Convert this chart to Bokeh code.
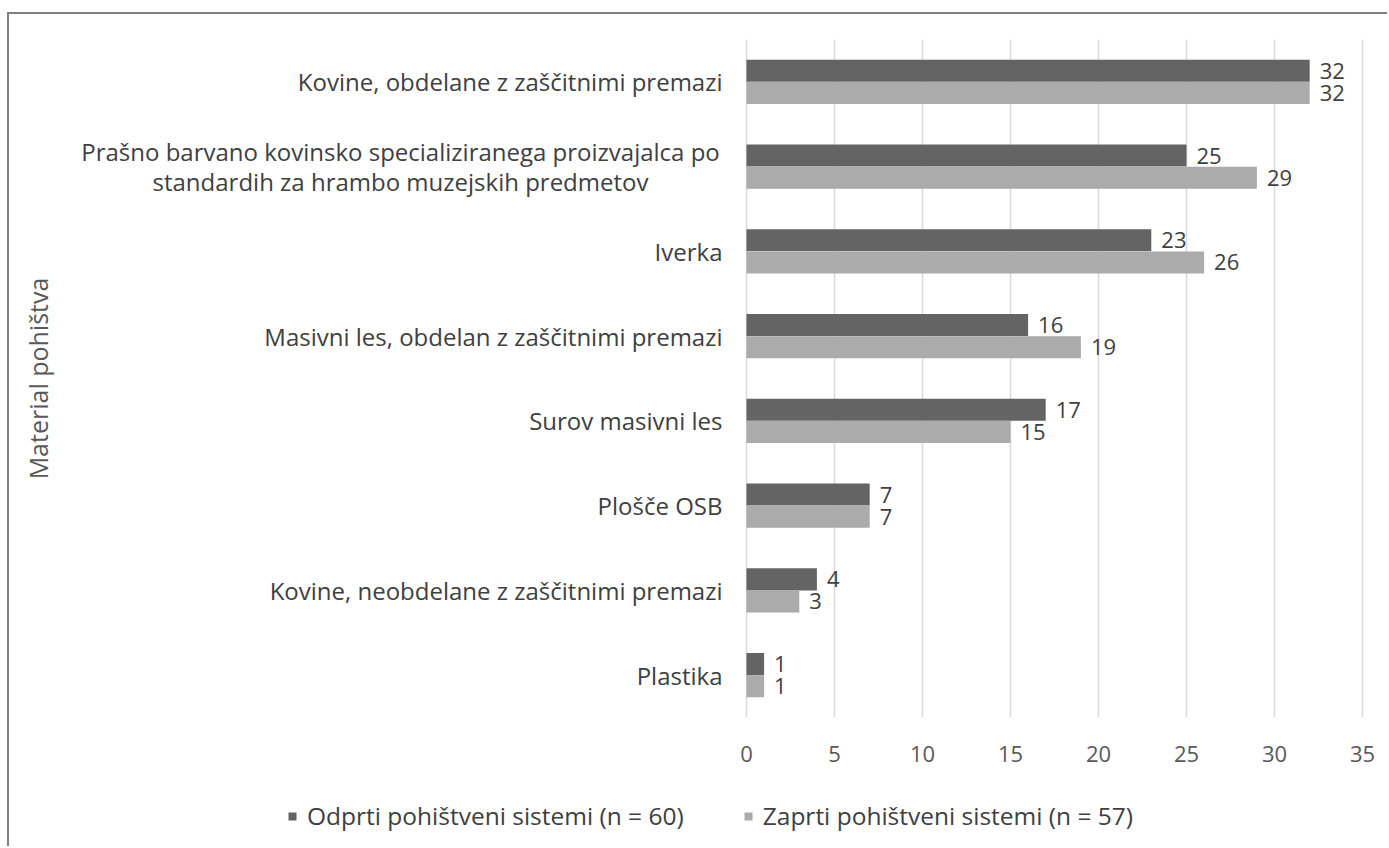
import math
from bokeh.plotting import figure
from bokeh.layouts import column
from bokeh.models import (ColumnDataSource, Range1d, FactorRange, LabelSet, Label,
                          Legend, LegendItem, FixedTicker)
from bokeh.core.properties import value
from bokeh.transform import dodge
from bokeh.embed import file_html
from bokeh.resources import INLINE

# ---- data (top to bottom as in the chart) ----
categories = [
    "Kovine, obdelane z zaščitnimi premazi",
    "Prašno barvano kovinsko specializiranega proizvajalca po\nstandardih za hrambo muzejskih predmetov",
    "Iverka",
    "Masivni les, obdelan z zaščitnimi premazi",
    "Surov masivni les",
    "Plošče OSB",
    "Kovine, neobdelane z zaščitnimi premazi",
    "Plastika",
]
odprti = [32, 25, 23, 16, 17, 7, 4, 1]
zaprti = [32, 29, 26, 19, 15, 7, 3, 1]
series_names = ["Odprti pohištveni sistemi (n = 60)", "Zaprti pohištveni sistemi (n = 57)"]
x_ticks = [0, 5, 10, 15, 20, 25, 30, 35]
y_axis_title = "Material pohištva"

FONT = "Open Sans"
DARK = "#646464"
LIGHT = "#ababab"
TEXT = "#404040"
GREY_TEXT = "#595959"

src = ColumnDataSource(dict(
    cat=categories,
    odprti=odprti,
    zaprti=zaprti,
    odprti_txt=[str(v) for v in odprti],
    zaprti_txt=[str(v) for v in zaprti],
))

OX, OY = 9, 14                 # page offset of the chart (room for the frame lines)
W = 1389 - OX
H_MAIN = 790 - OY
H_LEG = 848 - 790
PX_PER_UNIT = 17.6
ZERO_X = 746 - OX              # pixel position of value 0 inside the figure
FRAME_TOP = 39 - OY
FRAME_BOTTOM = 717 - OY

factors = categories[::-1]
p = figure(width=W, height=H_MAIN, output_backend="svg", toolbar_location=None,
           y_range=FactorRange(factors=factors, range_padding=0),
           x_range=Range1d(-ZERO_X / PX_PER_UNIT, (W - ZERO_X) / PX_PER_UNIT),
           min_border_left=0, min_border_right=0,
           min_border_top=FRAME_TOP, min_border_bottom=H_MAIN - FRAME_BOTTOM)
p.outline_line_color = None
p.background_fill_color = "white"
p.border_fill_color = "white"

bh = 0.26
r1 = p.hbar(y=dodge("cat", bh / 2, range=p.y_range), right="odprti", left=0, height=bh,
            source=src, fill_color=DARK, line_color=None)
r2 = p.hbar(y=dodge("cat", -bh / 2, range=p.y_range), right="zaprti", left=0, height=bh,
            source=src, fill_color=LIGHT, line_color=None)

for col, off in (("odprti", bh / 2), ("zaprti", -bh / 2)):
    p.add_layout(LabelSet(x=col, y=dodge("cat", off, range=p.y_range), text=col + "_txt",
                          source=src, x_offset=10, text_align="left", text_baseline="middle",
                          text_font=value(FONT), text_font_size="22px", text_color=TEXT))

# category labels, right-aligned 24px left of the value axis origin
for c in categories:
    yc = factors.index(c) + 0.5          # factor centre in the range's synthetic coordinates
    lines = c.split("\n")
    if len(lines) == 1:
        p.add_layout(Label(x=0, x_offset=-24, y=yc, text=c, text_align="right",
                           text_baseline="middle", text_font=FONT, text_font_size="24px",
                           text_color=TEXT))
    else:
        n = len(lines)
        for i, ln in enumerate(lines):
            p.add_layout(Label(x=0, x_offset=-346, y=yc, y_offset=15 * (n - 1) - 30 * i,
                               text=ln, text_align="center", text_baseline="middle",
                               text_font=FONT, text_font_size="24px", text_color=TEXT))

# y axis title
p.add_layout(Label(x=0, x_offset=-709, y=len(categories) / 2, text=y_axis_title,
                   angle=math.pi / 2, text_align="center", text_baseline="middle",
                   text_font=FONT, text_font_size="25px", text_color=GREY_TEXT))

p.yaxis.visible = False
p.ygrid.visible = False

# x axis
p.xaxis.ticker = FixedTicker(ticks=x_ticks)
p.xaxis.axis_line_color = None
p.xaxis.major_tick_line_color = None
p.xaxis.minor_tick_line_color = None
p.xaxis.major_tick_out = 0
p.xaxis.major_label_standoff = 28
p.xaxis.major_label_text_font = FONT
p.xaxis.major_label_text_font_size = "22px"
p.xaxis.major_label_text_color = GREY_TEXT
p.xgrid.ticker = FixedTicker(ticks=x_ticks)
p.xgrid.grid_line_color = "#d9d9d9"
p.xgrid.grid_line_width = 1.5

# legend strip (own small figure, frame covers it fully so nothing is clipped)
pl = figure(width=W, height=H_LEG, output_backend="svg", toolbar_location=None,
            x_range=Range1d(0, 1), y_range=Range1d(0, 1),
            min_border_left=0, min_border_right=0, min_border_top=0, min_border_bottom=0)
pl.axis.visible = False
pl.grid.visible = False
pl.outline_line_color = None
pl.border_fill_color = "white"
# zero-size bars: they only provide the legend swatches
lr1 = pl.hbar(y=[0], left=[0], right=[0], height=0, fill_color=DARK, line_color=None)
lr2 = pl.hbar(y=[0], left=[0], right=[0], height=0, fill_color=LIGHT, line_color=None)
legend = Legend(items=[LegendItem(label=series_names[0], renderers=[lr1]),
                       LegendItem(label=series_names[1], renderers=[lr2])],
                orientation="horizontal", location=(287 - OX, 16),
                glyph_width=10, glyph_height=10, label_standoff=10, spacing=59,
                padding=0, margin=0, border_line_alpha=0, background_fill_alpha=0,
                label_text_font=FONT, label_text_font_size="24.5px", label_text_color=TEXT)
pl.add_layout(legend)

layout = column(p, pl, spacing=0, margin=(OY, 0, 0, OX))
layout.styles = {"box-shadow": "-2px -2px 0 0 #7f7f7f"}

open("out.html", "w").write(file_html(layout, INLINE))
